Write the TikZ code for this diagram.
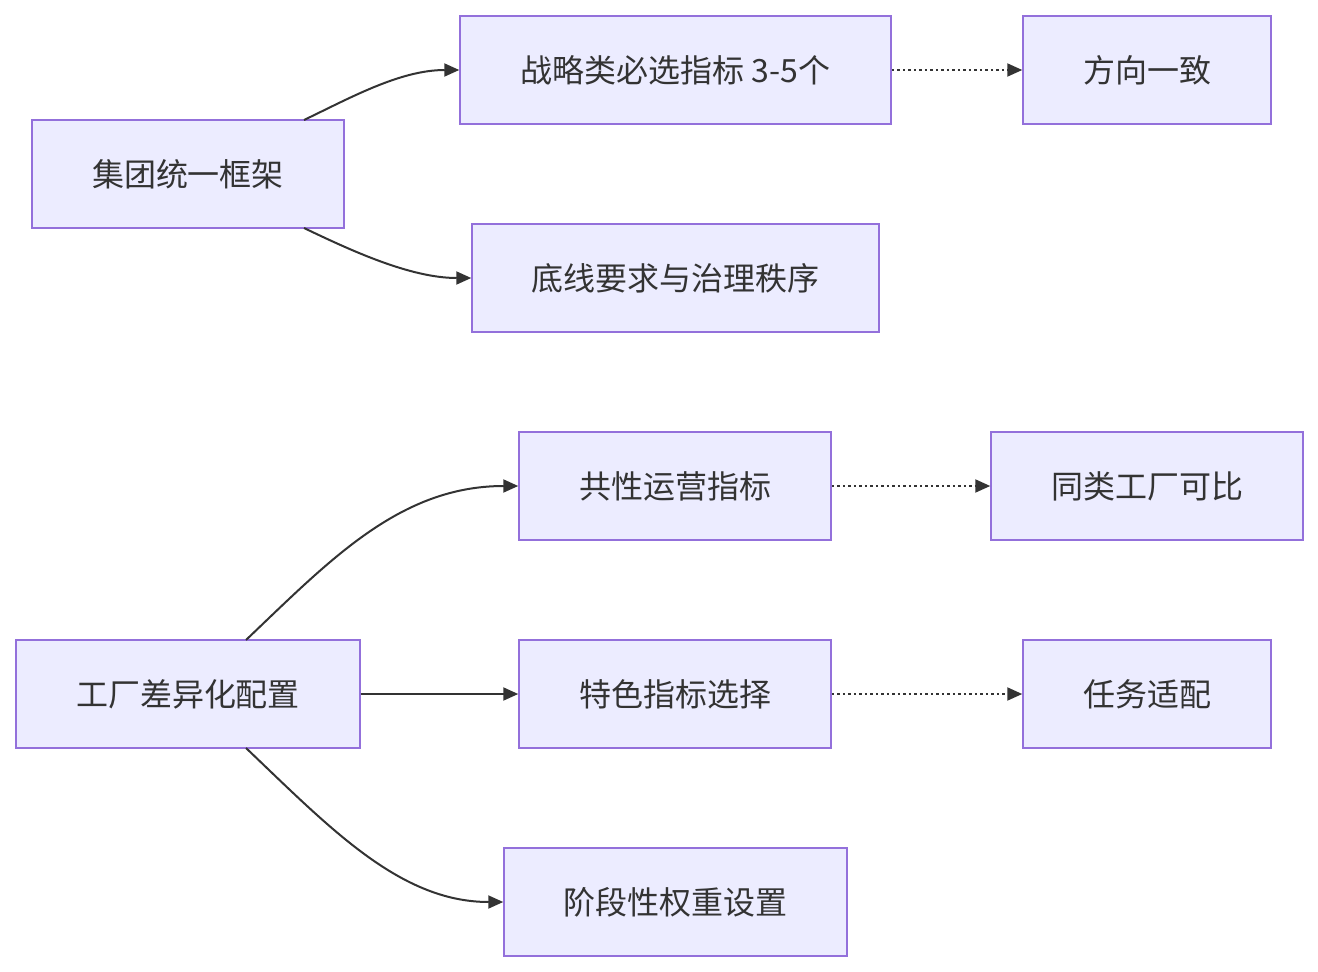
\documentclass[tikz,border=0pt]{standalone}
\usepackage{fontspec}
\setmainfont{Noto Sans CJK SC}
\usetikzlibrary{arrows.meta}
\definecolor{boxfill}{HTML}{ECECFF}
\definecolor{boxline}{HTML}{9370DB}
\definecolor{txt}{HTML}{333333}
\begin{document}
\begin{tikzpicture}[x=1pt,y=-1pt,
  box/.style={draw=boxline,fill=boxfill,line width=1.5pt,rectangle,inner sep=0pt,
    text=txt,font=\fontsize{32}{36}\selectfont},
  edge/.style={draw=txt,line width=2pt,-{Triangle[length=15pt,width=13pt]}},
  dotedge/.style={edge,dash pattern=on 2.5pt off 3pt}]
\useasboundingbox (0,0) rectangle (1318,972);
\node[box,minimum width=312pt,minimum height=108pt] (a) at (188,174) {集团统一框架};
\node[box,minimum width=431pt,minimum height=108pt] (b) at (675.5,70) {战略类必选指标 3-5个};
\node[box,minimum width=248pt,minimum height=108pt] (c) at (1147,70) {方向一致};
\node[box,minimum width=407pt,minimum height=108pt] (d) at (675.5,278) {底线要求与治理秩序};
\node[box,minimum width=312pt,minimum height=108pt] (e) at (675,486) {共性运营指标};
\node[box,minimum width=312pt,minimum height=108pt] (f) at (1147,486) {同类工厂可比};
\node[box,minimum width=344pt,minimum height=108pt] (g) at (188,694) {工厂差异化配置};
\node[box,minimum width=312pt,minimum height=108pt] (h) at (675,694) {特色指标选择};
\node[box,minimum width=248pt,minimum height=108pt] (i) at (1147,694) {任务适配};
\node[box,minimum width=343pt,minimum height=108pt] (j) at (675.5,902) {阶段性权重设置};
\coordinate (a1) at (304,120);
\coordinate (a2) at (304,228);
\coordinate (g1) at (246,640);
\coordinate (g2) at (246,748);
\draw[edge] (a1) .. controls (350,98) and (400,70) .. (b.west);
\draw[edge] (a2) .. controls (350,250) and (410,278) .. (d.west);
\draw[edge] (g1) .. controls (330,560) and (400,486) .. (e.west);
\draw[edge] (g.east) -- (h.west);
\draw[edge] (g2) .. controls (330,828) and (400,902) .. (j.west);
\draw[dotedge] (b.east) -- (c.west);
\draw[dotedge] (e.east) -- (f.west);
\draw[dotedge] (h.east) -- (i.west);
\end{tikzpicture}
\end{document}
